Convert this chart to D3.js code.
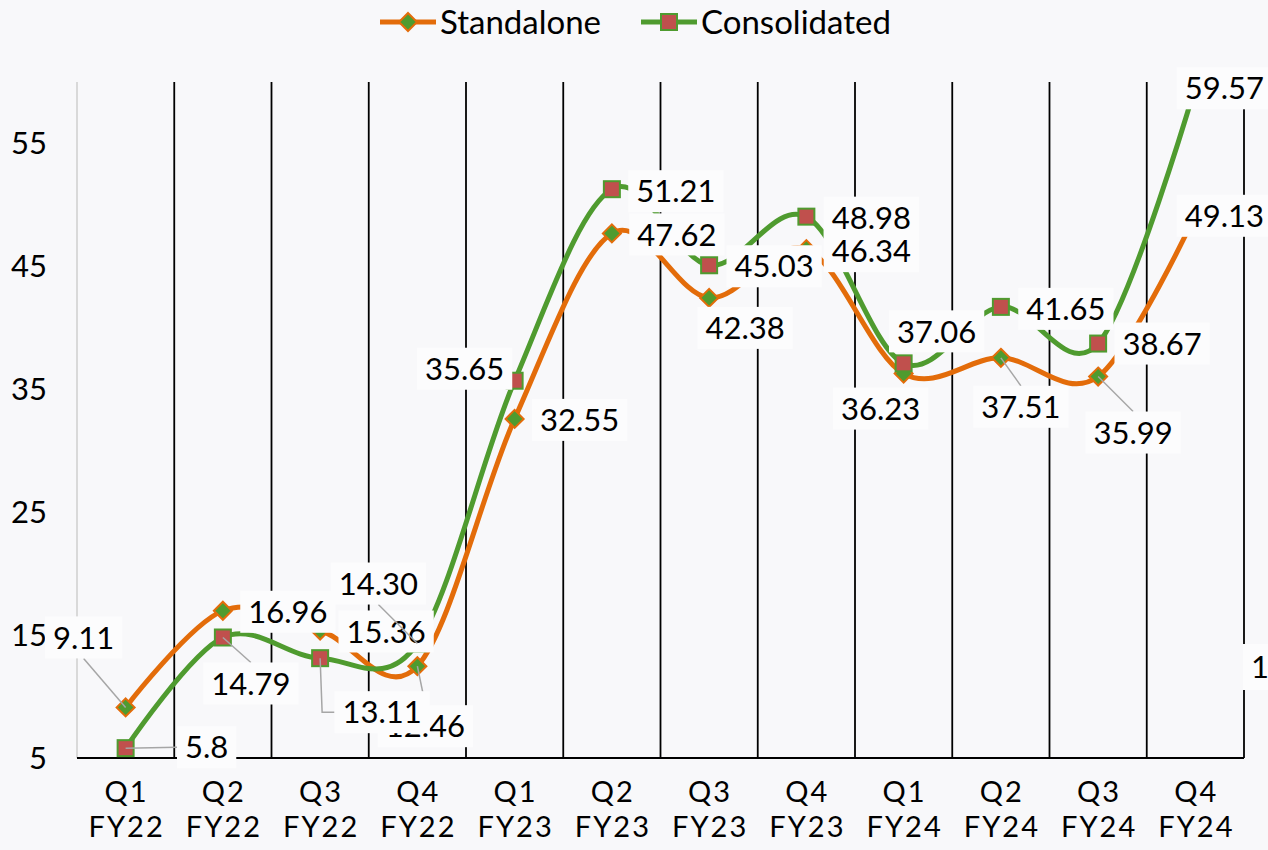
<!DOCTYPE html>
<html><head><meta charset="utf-8">
<script src="https://cdn.jsdelivr.net/npm/d3@7"></script>
<style>
html,body{margin:0;padding:0;background:#f8f8fa;}
svg{display:block;font-family:Lato,"Noto Sans",sans-serif;}
</style></head><body>
<svg id="chart" width="1268" height="850"></svg>
<script>
// ---- data ----
const categories = ["Q1 FY22","Q2 FY22","Q3 FY22","Q4 FY22","Q1 FY23","Q2 FY23","Q3 FY23","Q4 FY23","Q1 FY24","Q2 FY24","Q3 FY24","Q4 FY24"];
const seriesNames = ["Standalone","Consolidated"];
const standalone = [9.11,16.96,15.36,12.46,32.55,47.62,42.38,46.34,36.23,37.51,35.99,49.13];
const consolidated = [5.8,14.79,13.11,14.30,35.65,51.21,45.03,48.98,37.06,41.65,38.67,59.57];
const standaloneText = ["9.11","16.96","15.36","12.46","32.55","47.62","42.38","46.34","36.23","37.51","35.99","49.13"];
const consolidatedText = ["5.8","14.79","13.11","14.30","35.65","51.21","45.03","48.98","37.06","41.65","38.67","59.57"];
const yTicks = [5,15,25,35,45,55];
const extraLabels = ["1"];

// ---- layout (pixel offsets of label centres from their point) ----
const standaloneLabelLayout = [[-42,-70,'b'],[65,1],[66,1],[8,60,'t'],[65,1],[65,1],[36,30],[65,2],[-23,35],[20,49,'t'],[35,56,'t'],[29,1]];
const consolidatedLabelLayout = [[81,-1,'l'],[28,46,'t'],[62,54,'l',true],[-39,-60,'b'],[-50,-12],[64,2],[65,1],[65,1],[33,-32],[65,2],[64,0],[29,2]];

const W=1268,H=850;
const ORANGE="#e36c0a", GREEN="#4f9b2f", RED="#c0504d", BG="#f8f8fa", BOX="#fcfcfd";
const svg=d3.select('#chart');
svg.append('rect').attr('width',W).attr('height',H).attr('fill',BG);

const pLeft=77,pRight=1244,pTop=81,pBottom=758;
const x=d3.scaleBand().domain(categories).range([pLeft,pRight]).padding(0);
const cx=c=>x(c)+x.bandwidth()/2;
const y=d3.scaleLinear().domain([5,60]).range([pBottom,pTop]);

// gridlines at category boundaries
const bounds = categories.slice(1).map(c=>x(c)).concat([pRight]);
svg.append('g').selectAll('line').data(bounds).join('line')
  .attr('x1',d=>d).attr('x2',d=>d).attr('y1',82).attr('y2',pBottom)
  .attr('stroke','#000').attr('stroke-width',1.8);
// y axis line
svg.append('line').attr('x1',pLeft).attr('x2',pLeft).attr('y1',82).attr('y2',pBottom)
  .attr('stroke','#d9d9d9').attr('stroke-width',2);

// y axis labels
const ya=svg.append('g').attr('transform','translate(47,0)')
  .call(d3.axisLeft(y).tickValues(yTicks).tickSize(0).tickPadding(0).tickFormat(d3.format('d')));
ya.select('.domain').remove();
ya.selectAll('text').attr('font-size',31).attr('font-family','Lato,"Noto Sans",sans-serif').attr('fill','#000').attr('dy','0.34em');

// x axis
const xa=svg.append('g').attr('transform',`translate(0,${pBottom})`)
  .call(d3.axisBottom(x).tickSize(0).tickPadding(0));
xa.select('.domain').attr('stroke','#000').attr('stroke-width',2).attr('d',`M${pLeft},0H${pRight}`);
xa.selectAll('.tick text').each(function(d){
  const t=d3.select(this); const parts=d.split(' ');
  t.text(null).attr('y',0).attr('dy',null).attr('font-size',29).attr('fill','#000')
   .attr('font-family','Lato,"Noto Sans",sans-serif').style('letter-spacing','2px');
  t.append('tspan').attr('x',1).attr('y',44).text(parts[0]);
  t.append('tspan').attr('x',1).attr('y',79).text(parts[1]);
});

// lines
const line=d3.line().x((d,i)=>cx(categories[i])).y(d=>y(d)).curve(d3.curveCatmullRom.alpha(0));
svg.append('path').datum(standalone).attr('d',line).attr('fill','none').attr('stroke',ORANGE).attr('stroke-width',5);
svg.append('path').datum(consolidated).attr('d',line).attr('fill','none').attr('stroke',GREEN).attr('stroke-width',5);

// markers
svg.append('g').selectAll('path').data(standalone).join('path')
  .attr('d','M0,-9L9,0L0,9L-9,0Z')
  .attr('transform',(d,i)=>`translate(${cx(categories[i])},${y(d)})`)
  .attr('fill',GREEN).attr('stroke',ORANGE).attr('stroke-width',2);
svg.append('g').selectAll('rect').data(consolidated).join('rect')
  .attr('x',(d,i)=>cx(categories[i])-8).attr('y',d=>y(d)-8).attr('width',16).attr('height',16)
  .attr('fill',RED).attr('stroke',GREEN).attr('stroke-width',2);

// data labels
const FS=31;
const lg=svg.append('g');
function drawLabel(px,py,txt,lay){
  const [dx,dy,lead,elbow]=lay;
  const lcx=px+dx, lcy=py+dy;
  const g=lg.append('g');
  const leadLine=g.append('path').attr('fill','none').attr('stroke','#a6a6a6').attr('stroke-width',1.5);
  const rect=g.append('rect').attr('fill',BOX);
  const t=g.append('text').attr('x',lcx).attr('y',lcy+0.36*FS).attr('text-anchor','middle')
    .attr('font-size',FS).attr('fill','#000').text(txt);
  const bb=t.node().getBBox();
  const bw=bb.width+16, bh=42;
  const bx=lcx-bw/2, by=lcy-bh/2;
  rect.attr('x',bx).attr('y',by).attr('width',bw).attr('height',bh);
  if(lead){
    let ax=lcx, ay=lcy;
    if(lead==='b'){ay=by+bh;} else if(lead==='t'){ay=by;} else if(lead==='l'){ax=bx;} else {ax=bx+bw;}
    const d = elbow ? `M${px},${py}L${px+2},${ay}L${ax},${ay}` : `M${px},${py}L${ax},${ay}`;
    leadLine.attr('d',d);
  }
}
standalone.forEach((v,i)=>drawLabel(cx(categories[i]),y(v),standaloneText[i],standaloneLabelLayout[i]));
consolidated.forEach((v,i)=>drawLabel(cx(categories[i]),y(v),consolidatedText[i],consolidatedLabelLayout[i]));

// partially visible extra label at right edge
extraLabels.forEach(s=>{
  lg.append('rect').attr('x',pRight-1).attr('y',644).attr('width',40).attr('height',46).attr('fill',BOX);
  lg.append('text').attr('x',pRight+7).attr('y',667+0.36*FS).attr('font-size',FS).attr('fill','#000').text(s);
});

// legend
const leg=svg.append('g');
const legItems=[{name:seriesNames[0],x0:380,color:ORANGE,type:'d'},{name:seriesNames[1],x0:641,color:GREEN,type:'s'}];
legItems.forEach(it=>{
  const ly=22;
  leg.append('line').attr('x1',it.x0).attr('x2',it.x0+56).attr('y1',ly).attr('y2',ly).attr('stroke',it.color).attr('stroke-width',5);
  if(it.type==='d'){
    leg.append('path').attr('d','M0,-9L9,0L0,9L-9,0Z').attr('transform',`translate(${it.x0+28},${ly})`)
      .attr('fill',GREEN).attr('stroke',ORANGE).attr('stroke-width',2);
  } else {
    leg.append('rect').attr('x',it.x0+20).attr('y',ly-8).attr('width',16).attr('height',16)
      .attr('fill',RED).attr('stroke',GREEN).attr('stroke-width',2);
  }
  leg.append('text').attr('x',it.x0+60).attr('y',ly+0.36*33).attr('font-size',33).attr('fill','#000').text(it.name);
});
</script></body></html>
